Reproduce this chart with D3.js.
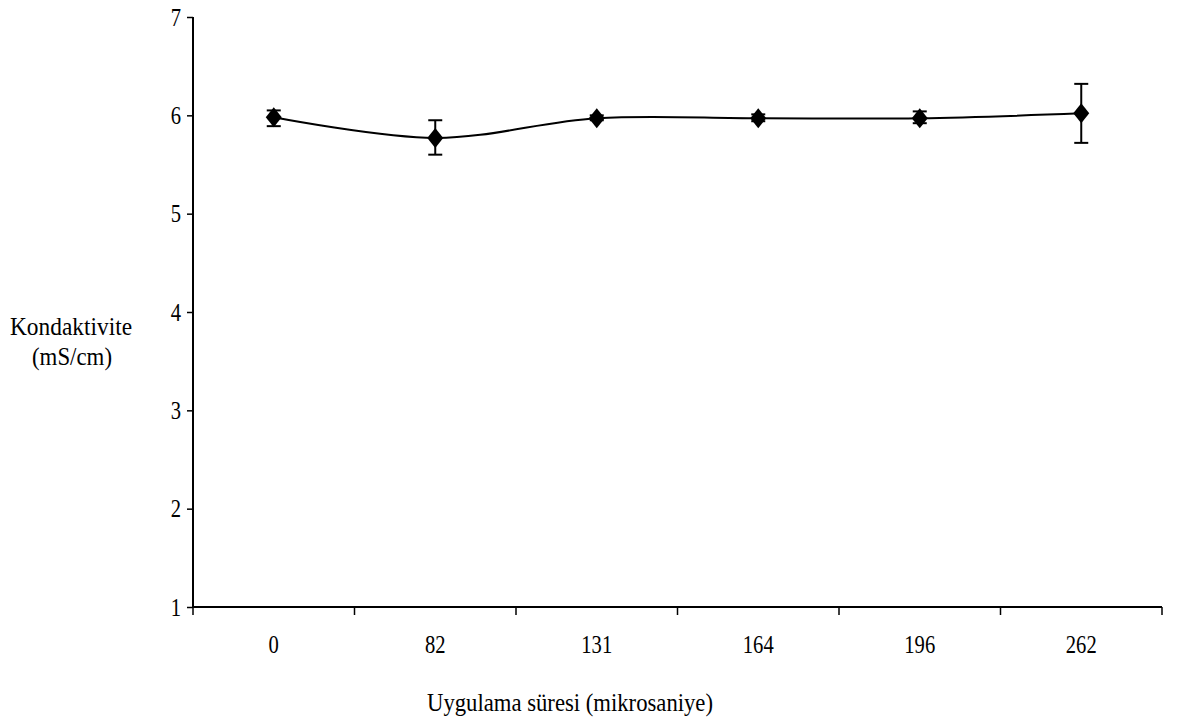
<!DOCTYPE html>
<html>
<head>
<meta charset="utf-8">
<script src="https://cdn.jsdelivr.net/npm/d3@7"></script>
<style>
  body { margin: 0; background: #fff; }
  text { font-family: "Liberation Serif", "Times New Roman", serif; fill: #000; }
</style>
</head>
<body>
<div id="chart"></div>
<script>
// Data
const categories = ["0", "82", "131", "164", "196", "262"];
const means = [5.98, 5.77, 5.97, 5.97, 5.97, 6.02];
const lows  = [5.89, 5.60, 5.95, 5.94, 5.92, 5.72];
const highs = [6.05, 5.95, 6.00, 6.01, 6.04, 6.32];
const yTicks = [1, 2, 3, 4, 5, 6, 7];

const W = 1183, H = 724;
const margin = {top: 17, right: 21, bottom: 117, left: 193},
    width = W - margin.left - margin.right,
    height = H - margin.top - margin.bottom;

// the original text is tall and narrow, so squeeze glyphs to a width per character
const digitW = 10.3;

const svg = d3.select("#chart")
  .append("svg")
    .attr("width", W)
    .attr("height", H)
  .append("g")
    .attr("transform", `translate(${margin.left},${margin.top})`);

const x = d3.scaleBand()
  .domain(categories)
  .range([0, width]);

const y = d3.scaleLinear()
  .domain([1, 7])
  .range([height, 0]);

// y axis
const yAxis = svg.append("g")
  .call(d3.axisLeft(y).tickValues(yTicks).tickSize(6).tickPadding(6).tickFormat(d3.format("d")));
yAxis.select(".domain").attr("stroke-width", 2).attr("d", `M0,0V${height}`);
yAxis.selectAll(".tick line").attr("stroke-width", 1.5);
yAxis.selectAll("text")
  .style("font-size", "26px")
  .style("font-family", "Liberation Serif")
  .attr("textLength", d => String(d).length * digitW)
  .attr("lengthAdjust", "spacingAndGlyphs");

// x axis: ticks between categories
const xAxis = svg.append("g")
  .attr("transform", `translate(0,${height})`);
xAxis.append("line")
  .attr("x1", 0).attr("x2", width)
  .attr("stroke", "#000").attr("stroke-width", 2);
const bounds = categories.map(c => x(c)).concat([x.range()[1]]);
xAxis.selectAll(".sep")
  .data(bounds)
  .join("line")
    .attr("x1", d => d).attr("x2", d => d)
    .attr("y1", 0).attr("y2", 8)
    .attr("stroke", "#000").attr("stroke-width", 1.5);
xAxis.selectAll(".lab")
  .data(categories)
  .join("text")
    .attr("x", d => x(d) + x.bandwidth() / 2)
    .attr("y", 46)
    .attr("text-anchor", "middle")
    .style("font-size", "26px")
    .attr("textLength", d => d.length * digitW)
    .attr("lengthAdjust", "spacingAndGlyphs")
    .text(d => d);

// axis titles
svg.append("text")
  .attr("x", 570 - margin.left)
  .attr("y", 711 - margin.top)
  .attr("text-anchor", "middle")
  .style("font-size", "25px")
  .attr("textLength", 286)
  .attr("lengthAdjust", "spacingAndGlyphs")
  .text("Uygulama süresi (mikrosaniye)");

svg.append("text")
  .attr("x", 71 - margin.left)
  .attr("y", 335 - margin.top)
  .attr("text-anchor", "middle")
  .style("font-size", "25px")
  .attr("textLength", 122)
  .attr("lengthAdjust", "spacingAndGlyphs")
  .text("Kondaktivite");
svg.append("text")
  .attr("x", 72 - margin.left)
  .attr("y", 365 - margin.top)
  .attr("text-anchor", "middle")
  .style("font-size", "25px")
  .attr("textLength", 80)
  .attr("lengthAdjust", "spacingAndGlyphs")
  .text("(mS/cm)");

const pts = categories.map((c, i) => ({c, m: means[i], lo: lows[i], hi: highs[i]}));
const cx = d => x(d.c) + x.bandwidth() / 2;

// smoothed line
svg.append("path")
  .datum(pts)
  .attr("fill", "none")
  .attr("stroke", "#000")
  .attr("stroke-width", 2)
  .attr("d", d3.line().x(cx).y(d => y(d.m)).curve(d3.curveCardinal.tension(0)));

// error bars
const eb = svg.append("g").attr("stroke", "#000").attr("stroke-width", 2);
eb.selectAll(".v").data(pts).join("line")
  .attr("x1", cx).attr("x2", cx)
  .attr("y1", d => y(d.lo)).attr("y2", d => y(d.hi));
eb.selectAll(".t").data(pts).join("line")
  .attr("x1", d => cx(d) - 7).attr("x2", d => cx(d) + 7)
  .attr("y1", d => y(d.hi)).attr("y2", d => y(d.hi));
eb.selectAll(".b").data(pts).join("line")
  .attr("x1", d => cx(d) - 7).attr("x2", d => cx(d) + 7)
  .attr("y1", d => y(d.lo)).attr("y2", d => y(d.lo));

// diamond markers
svg.selectAll(".dia").data(pts).join("path")
  .attr("transform", d => `translate(${cx(d)},${y(d.m)})`)
  .attr("d", "M0,-10L8,0L0,10L-8,0Z")
  .attr("fill", "#000");
</script>
</body>
</html>
